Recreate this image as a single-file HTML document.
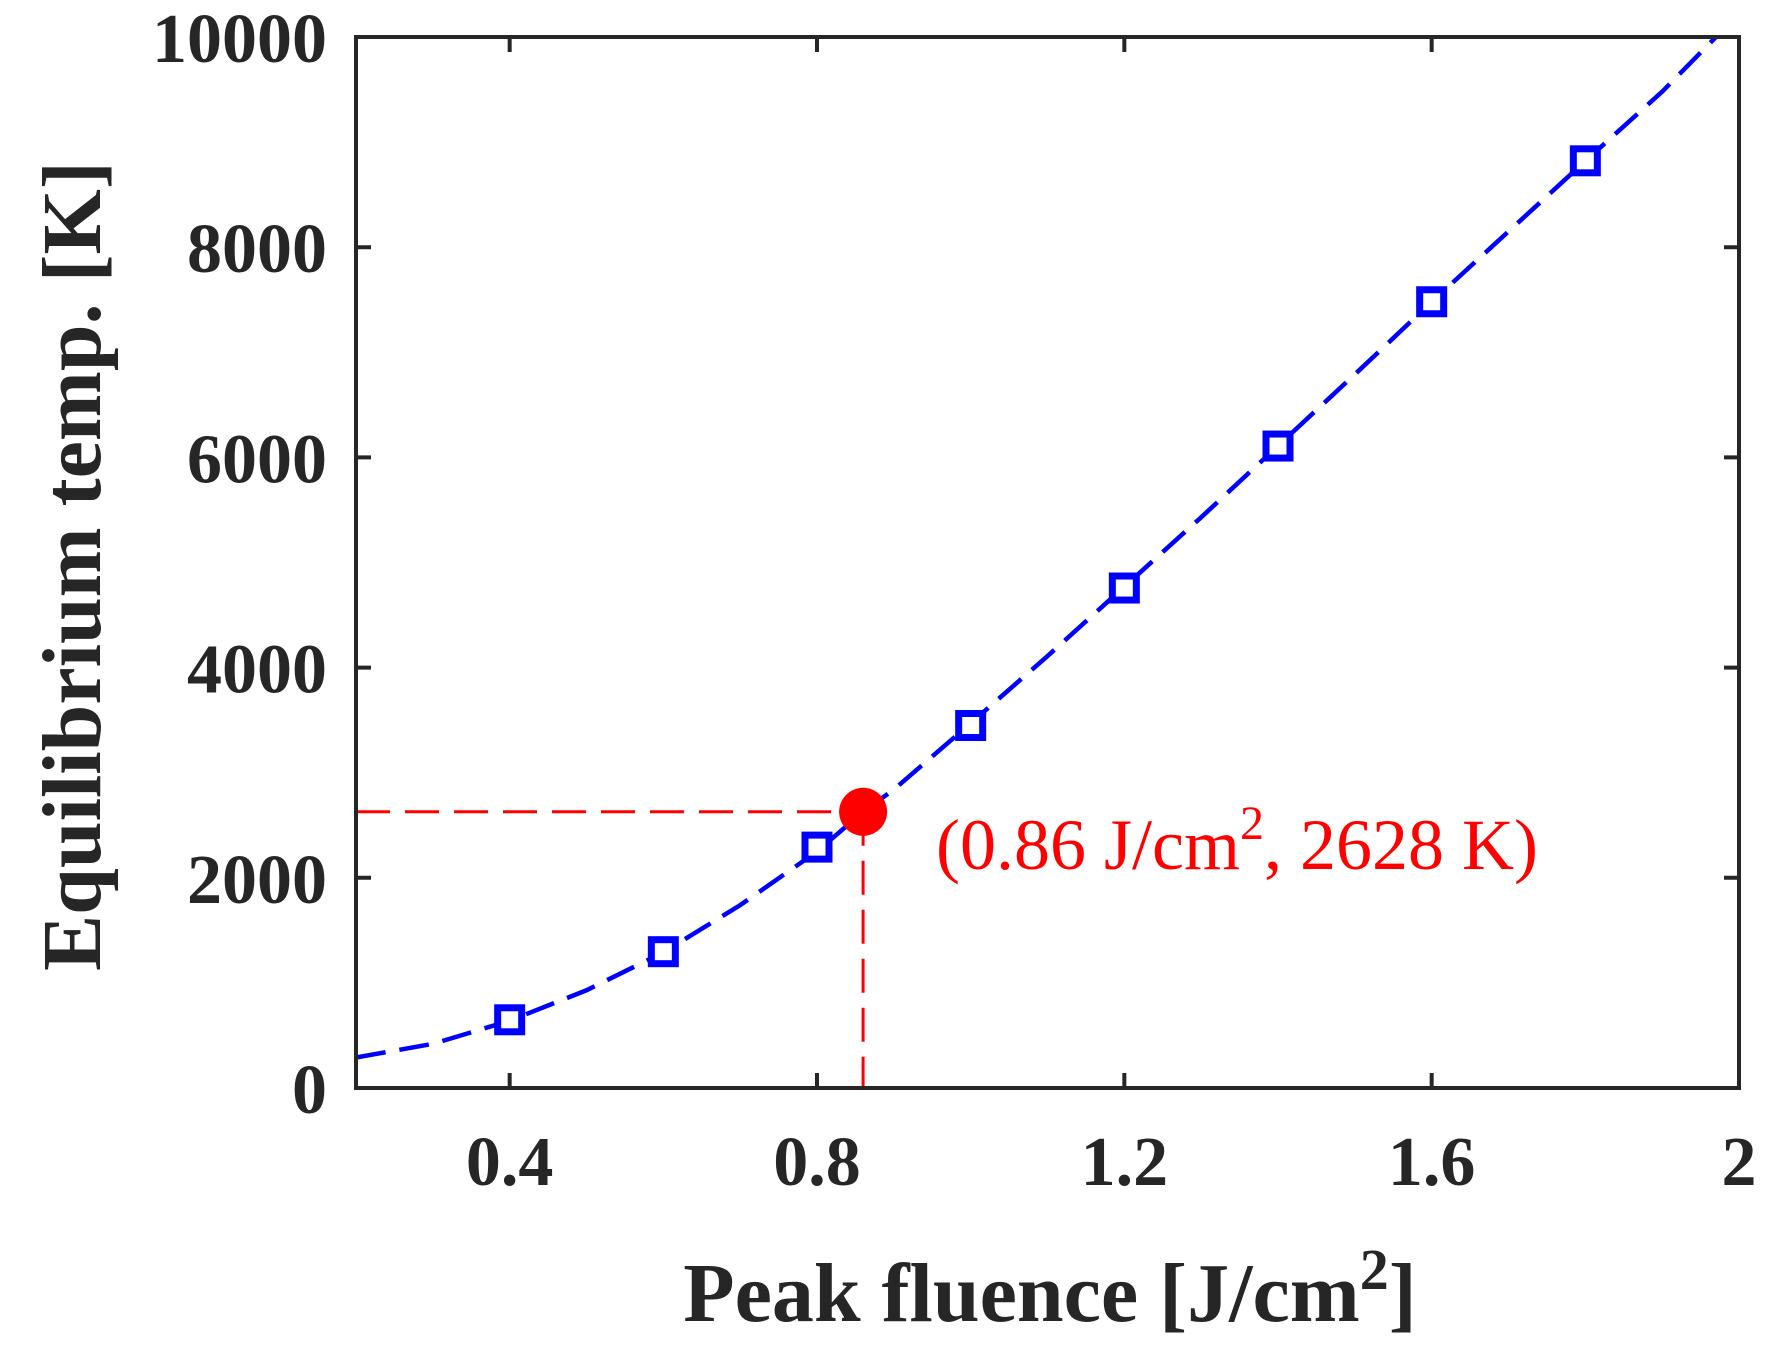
<!DOCTYPE html>
<html><head><meta charset="utf-8"><style>
html,body{margin:0;padding:0;background:#fff;}
svg{display:block;}
text{font-family:"Liberation Serif","DejaVu Serif",serif;}
</style></head><body>
<svg id="chart" width="1785" height="1352" viewBox="0 0 1785 1352" xmlns="http://www.w3.org/2000/svg"></svg>
<script>
const xTicks=[0.4,0.8,1.2,1.6,2];
const xTickLabels=["0.4","0.8","1.2","1.6","2"];
const yTicks=[0,2000,4000,6000,8000,10000];
const yTickLabels=["0","2000","4000","6000","8000","10000"];
const markerX=[0.4,0.6,0.8,1.0,1.2,1.4,1.6,1.8];
const markerY=[649,1297,2292,3449,4757,6108,7481,8822];
const curveX=[0.2,0.3,0.4,0.5,0.6,0.7,0.8,0.86,0.9,1.0,1.1,1.2,1.3,1.4,1.5,1.6,1.7,1.8,1.9,1.97];
const curveY=[290,420,640,930,1290,1740,2250,2628,2840,3470,4110,4770,5430,6110,6790,7480,8150,8820,9480,10000];
const pointX=[0.86];
const pointY=[2628];
const L=356,R=1739,T=37,B=1088;
const xs=v=>L+(v-0.2)/(2-0.2)*(R-L);
const ys=v=>B-v/10000*(B-T);
const svg=document.getElementById('chart');
const NS='http://www.w3.org/2000/svg';
function mk(tag,attrs,parent){const e=document.createElementNS(NS,tag);for(const k in attrs)e.setAttribute(k,attrs[k]);(parent||svg).appendChild(e);return e;}
const ink='#262626';
const gx=mk('line',{x1:L,y1:ys(pointY[0]),x2:xs(pointX[0]),y2:ys(pointY[0]),stroke:'#ff0000','stroke-width':3,'stroke-dasharray':'34 15'});


const gy=mk('line',{x1:xs(pointX[0]),y1:ys(pointY[0]),x2:xs(pointX[0]),y2:B,stroke:'#ff0000','stroke-width':3,'stroke-dasharray':'34 15'});


const cp=mk('polyline',{points:curveX.map((x,i)=>xs(x)+','+ys(curveY[i])).join(' '),fill:'none',stroke:'#0000ff','stroke-width':4.5,'stroke-dasharray':'30 14'});


markerX.forEach((x,i)=>{
  const s=mk('rect',{x:xs(x)-12,y:ys(markerY[i])-12,width:24,height:24,fill:'#fff',stroke:'#0000ff','stroke-width':7});
  
  
});
const rp=mk('circle',{cx:xs(pointX[0]),cy:ys(pointY[0]),r:24,fill:'#ff0000'});


const box=mk('rect',{x:L,y:T,width:R-L,height:B-T,fill:'none',stroke:ink,'stroke-width':4});


xTicks.forEach((v,i)=>{
  const x=xs(v);
  const t=mk('path',{d:`M${x},${B}V${B-15}M${x},${T}V${T+15}`,stroke:ink,'stroke-width':4});
  
  
  const lb=mk('text',{x:x,y:1185,'text-anchor':'middle','font-size':70,'font-weight':'bold',fill:ink});
  lb.textContent=xTickLabels[i];
  
  
});
yTicks.forEach((v,i)=>{
  const y=ys(v);
  const t=mk('path',{d:`M${L},${y}H${L+15}M${R},${y}H${R-15}`,stroke:ink,'stroke-width':4});
  
  
  const lb=mk('text',{x:327,y:y+25,'text-anchor':'end','font-size':70,'font-weight':'bold',fill:ink});
  lb.textContent=yTickLabels[i];
  
  
});
const xt=mk('text',{x:1050,y:1321,'text-anchor':'middle','font-size':84,'font-weight':'bold',fill:ink});
xt.innerHTML='Peak fluence [J/cm<tspan dy="-32" font-size="58">2</tspan><tspan dy="32">]</tspan>';


const yt=mk('text',{x:0,y:0,'text-anchor':'middle','font-size':84,'font-weight':'bold',fill:ink,transform:'translate(100,566) rotate(-90)'});
yt.textContent='Equilibrium temp. [K]';


const an=mk('text',{x:936,y:869,'font-size':72,fill:'#ff0000'});
an.innerHTML='(0.86 J/cm<tspan dy="-30" font-size="48">2</tspan><tspan dy="30">, 2628 K)</tspan>';


</script>
</body></html>
